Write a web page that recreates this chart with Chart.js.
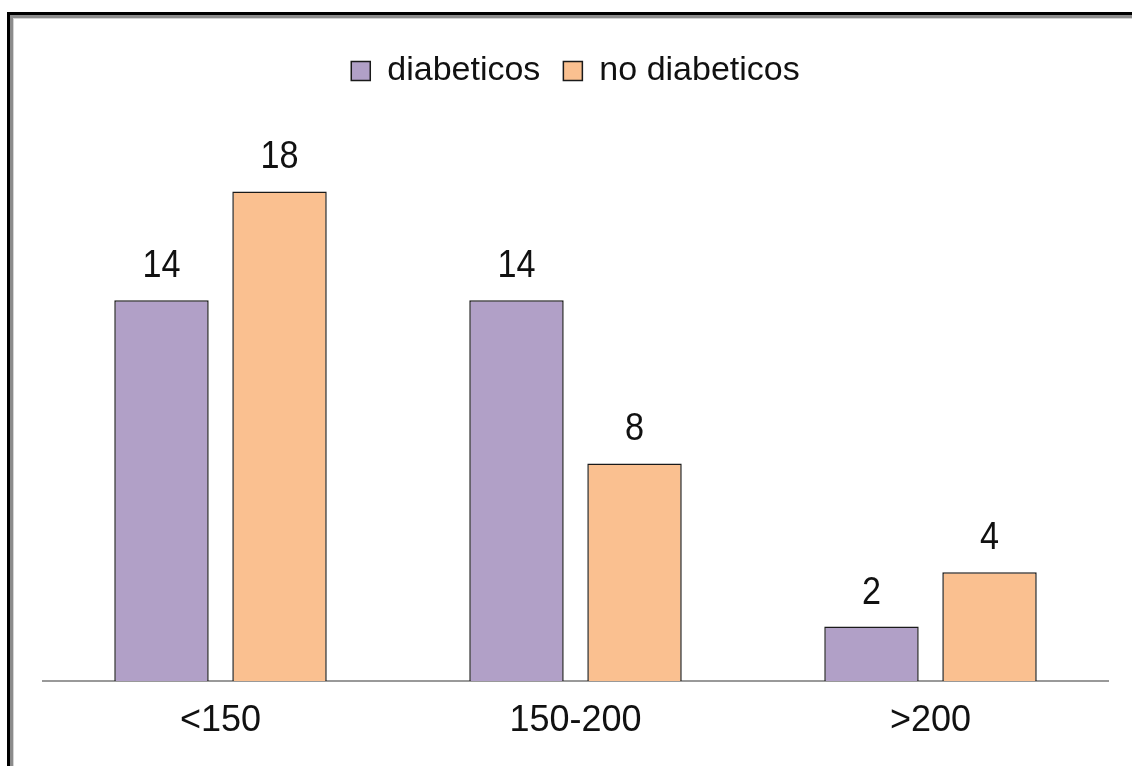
<!DOCTYPE html>
<html>
<head>
<meta charset="utf-8">
<script src="https://cdn.jsdelivr.net/npm/chart.js@4.4.1/dist/chart.umd.min.js"></script>
<style>
    html, body { margin: 0; padding: 0; background: #fff; overflow: hidden; }
    #frame {
        position: absolute; left: 7px; top: 12px; width: 2000px; height: 2000px;
        border-top: 3px solid #000; border-left: 3px solid #000;
        box-shadow: inset 3px 3px 0 #8c8c8c, inset 4px 4px 0 #d4d4d4;
    }
    #chart { position: absolute; left: 0; top: 0; }
</style>
</head>
<body>
<div id="frame"></div>
<canvas id="chart" width="1132" height="766"></canvas>
<script>
const categories = ['<150', '150-200', '>200'];
const seriesNames = ['diabeticos', 'no diabeticos'];
const diabeticos = [14, 14, 2];
const noDiabeticos = [18, 8, 4];

const labelFont = "'Liberation Sans', Arial, sans-serif";

// valores encima de cada barra
const valueLabels = {
    id: 'valueLabels',
    afterDatasetsDraw(chart) {
        const ctx = chart.ctx;
        ctx.save();
        ctx.font = '38px ' + labelFont;
        ctx.fillStyle = '#111';
        ctx.textAlign = 'center';
        ctx.textBaseline = 'alphabetic';
        chart.data.datasets.forEach((ds, i) => {
            chart.getDatasetMeta(i).data.forEach((bar, j) => {
                ctx.save();
                ctx.translate(bar.x, bar.y - 23);
                ctx.scale(0.9, 1);
                ctx.fillText(ds.data[j], 0, 0);
                ctx.restore();
            });
        });
        ctx.restore();
    }
};

const legendHeight = {
    id: 'legendHeight',
    beforeInit(chart) {
        const fit = chart.legend.fit;
        chart.legend.fit = function() {
            fit.bind(chart.legend)();
            this.height = 106;
        };
    }
};

new Chart(document.getElementById('chart'), {
    type: 'bar',
    data: {
        labels: categories,
        datasets: [
            {
                label: seriesNames[0],
                data: diabeticos,
                backgroundColor: '#b1a0c7',
                borderColor: '#1a1a1a',
                borderWidth: 1.5
            },
            {
                label: seriesNames[1],
                data: noDiabeticos,
                backgroundColor: '#fac090',
                borderColor: '#1a1a1a',
                borderWidth: 1.5
            }
        ]
    },
    options: {
        responsive: false,
        animation: false,
        layout: { padding: { top: 31, left: 43, right: 24, bottom: 0 } },
        categoryPercentage: 0.665,
        barPercentage: 0.8,
        plugins: {
            legend: {
                position: 'top',
                labels: {
                    color: '#111',
                    font: { family: labelFont, size: 34 },
                    boxWidth: 19,
                    boxHeight: 19,
                    padding: 23
                }
            },
            tooltip: { enabled: false }
        },
        scales: {
            x: {
                grid: { display: false, drawTicks: false },
                border: { display: true, color: '#999', width: 2 },
                ticks: {
                    color: '#111',
                    font: { family: labelFont, size: 36 },
                    padding: 18
                },
                afterFit: function(scale) {
                    scale.height = 85;
                }
            },
            y: {
                display: false,
                min: 0,
                max: 20
            }
        }
    },
    plugins: [valueLabels, legendHeight]
});
</script>
</body>
</html>
